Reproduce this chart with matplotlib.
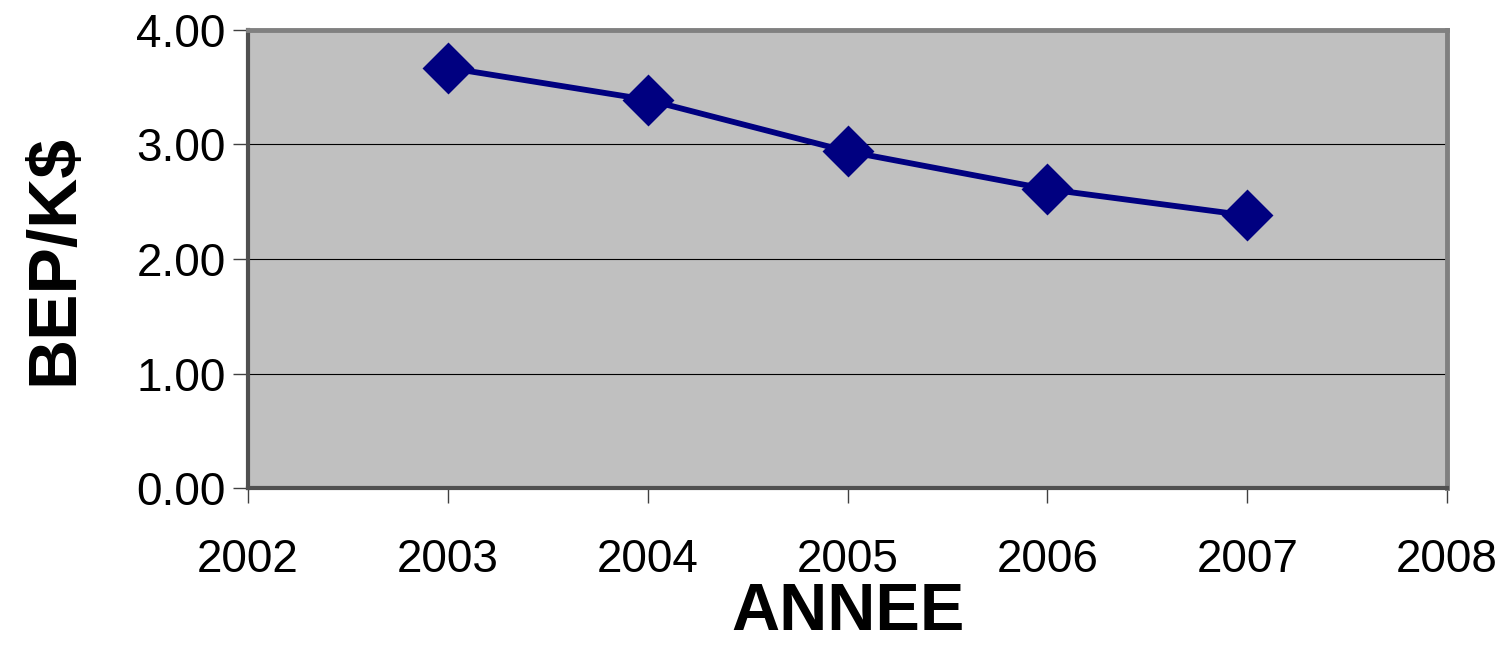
import matplotlib.pyplot as plt
from matplotlib.ticker import FormatStrFormatter

# Data
years = [2003, 2004, 2005, 2006, 2007]
bep_per_kusd = [3.67, 3.39, 2.94, 2.61, 2.38]

plt.rcParams['font.family'] = ['Liberation Sans', 'DejaVu Sans']

fig = plt.figure(figsize=(15.07, 6.52), dpi=100)
ax = fig.add_axes([0.1646, 0.2515, 0.7956, 0.7025])
ax.set_facecolor('#C0C0C0')

ax.plot(years, bep_per_kusd, color='#000080', linewidth=4.2,
        marker='D', markersize=24, markerfacecolor='#000080',
        markeredgecolor='#000080', markeredgewidth=2, zorder=3)

ax.set_xlim(2002, 2008)
ax.set_ylim(0, 4)
ax.set_xticks(range(2002, 2009))
ax.set_yticks([0, 1, 2, 3, 4])
ax.yaxis.set_major_formatter(FormatStrFormatter('%.2f'))

ax.grid(axis='y', color='black', linewidth=0.8)
ax.set_axisbelow(True)

for side in ['top', 'right']:
    ax.spines[side].set_color('#808080')
    ax.spines[side].set_linewidth(3.5)
for side in ['left', 'bottom']:
    ax.spines[side].set_color('#505050')
    ax.spines[side].set_linewidth(3)

ax.tick_params(axis='both', direction='out', length=11, width=1,
               color='#404040', labelsize=33)
ax.tick_params(axis='x', pad=25)
ax.tick_params(axis='y', pad=5)

ax.set_xlabel('ANNEE', fontsize=48, fontweight='bold', labelpad=0)
ax.set_ylabel('BEP/K$', fontsize=50, fontweight='bold', labelpad=36)

plt.savefig('out.png', dpi=100)
